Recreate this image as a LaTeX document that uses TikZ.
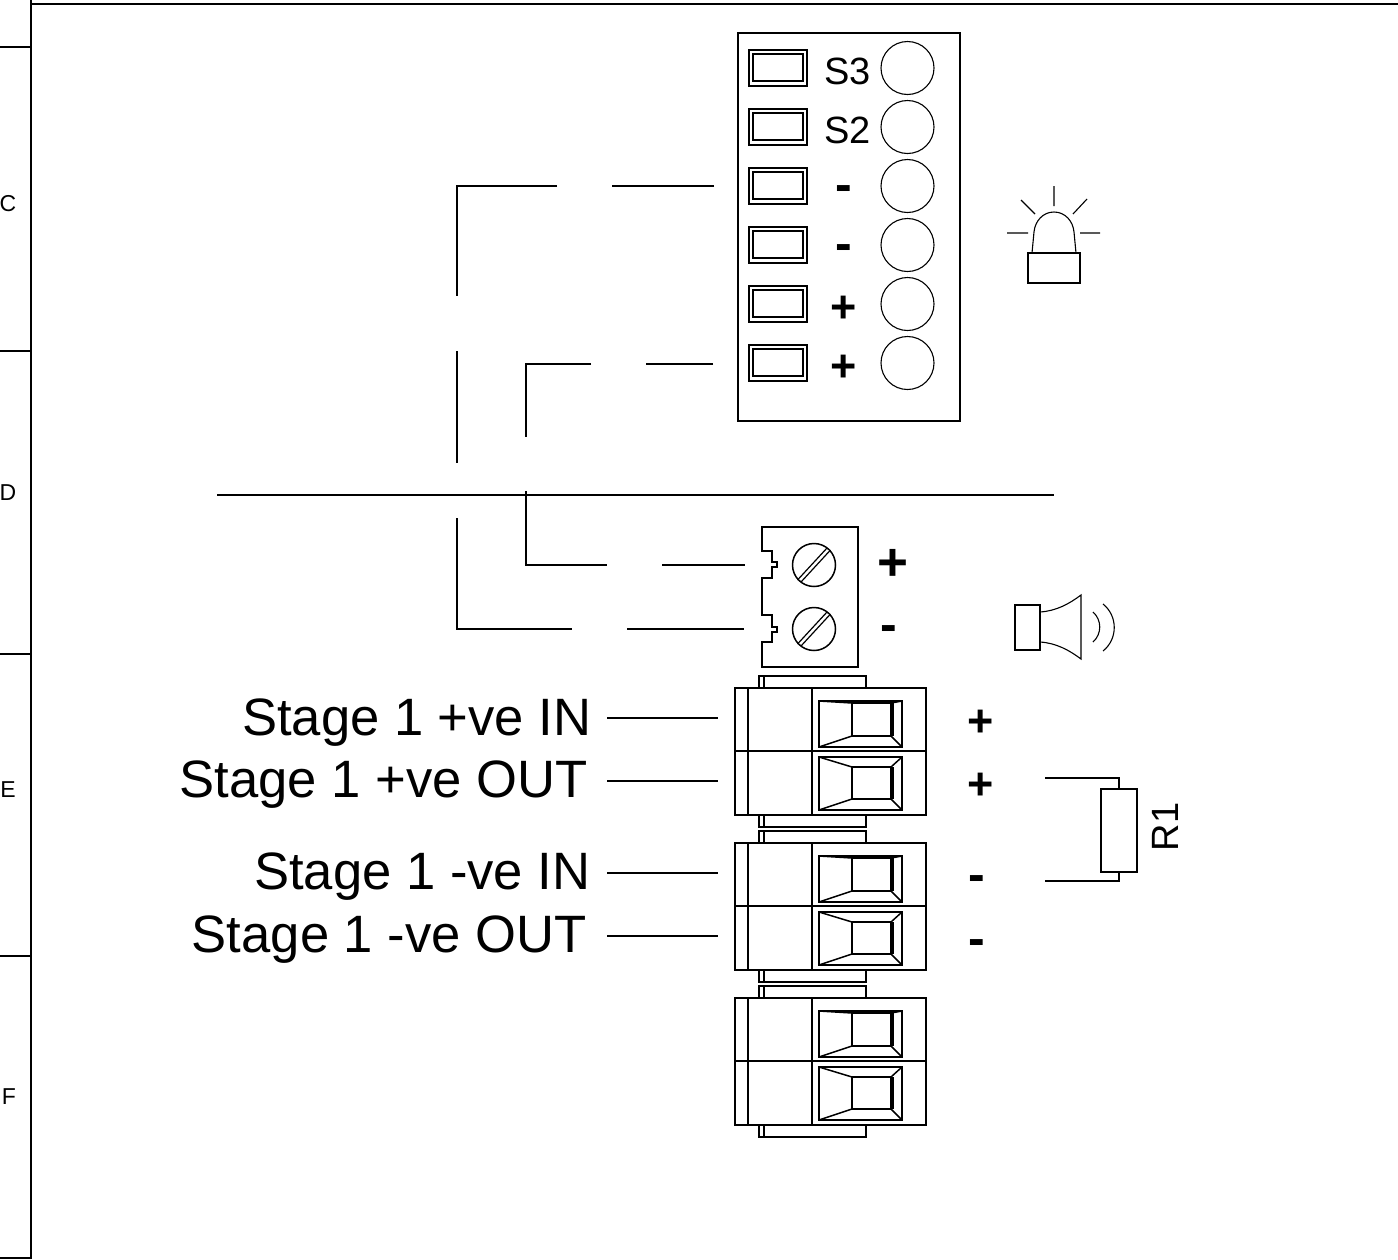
\documentclass[tikz,border=0pt]{standalone}
\usepackage{fontspec}
\setmainfont{Liberation Sans}
\tikzset{
  x=0.5pt,y=-0.5pt,
  ln/.style={line width=0.75pt,line cap=butt,line join=miter},
  thin ln/.style={line width=0.55pt},
  lbl/.style={inner sep=0pt,outer sep=0pt,font=\fontsize{26.3}{30}\selectfont,anchor=base east},
  pinlbl/.style={inner sep=0pt,outer sep=0pt,font=\fontsize{19}{22}\selectfont},
  plus/.style={inner sep=0pt,outer sep=0pt,font=\fontsize{22.5}{26}\selectfont\bfseries},
  minus/.style={inner sep=0pt,outer sep=0pt,font=\fontsize{25}{28}\selectfont\bfseries},
  bigplus/.style={inner sep=0pt,outer sep=0pt,font=\fontsize{26.5}{30}\selectfont\bfseries},
  sheet/.style={inner sep=0pt,outer sep=0pt,font=\fontsize{11.5}{13}\selectfont},
}
\newcommand{\switchrow}[2]{%
  \draw[thin ln] (749,#1-18) rectangle (807,#1+18);
  \draw[ln] (753,#1-14) rectangle (803,#1+13);
  \node[draw,circle,line width=0.55pt,minimum size=26.5pt,inner sep=0pt] (#2) at (907.5,#1) {};
}
\newcommand{\opening}[4]{% top, bottom, inner top, inner bottom
  \draw[line width=0.9pt] (819,#1) rectangle (902,#2);
  \draw[ln] (852,#3) rectangle (891,#4);
  \draw[line width=1.5pt] (892,#3) -- (892,#4);
  \draw[ln] (819,#1) -- (852,#3) (902,#1) -- (891,#3) (819,#2) -- (852,#4) (902,#2) -- (891,#4);
}
\newcommand{\connblock}[1]{%
  \begin{scope}[shift={(0,#1)}]
    \draw[ln] (759,688) -- (759,676) -- (866,676) -- (866,688);
    \draw[ln] (764,676) -- (764,688);
    \draw[ln] (759,815) -- (759,827) -- (866,827) -- (866,815);
    \draw[ln] (764,815) -- (764,827);
    \draw[ln] (735,688) rectangle (926,815);
    \draw[ln] (735,751) -- (926,751);
    \draw[ln] (748,688) -- (748,815);
    \draw[ln] (812,688) -- (812,815);
    \opening{701}{747}{703}{736}
    \opening{757}{810}{767}{799}
  \end{scope}
}
\newcommand{\screw}[3]{%
  \node[draw,circle,line width=0.75pt,minimum size=21.5pt,inner sep=0pt] (#1) at (#2,#3) {};
  \draw[line width=0.6pt] (#2-16.5,#3+15) -- (#2+13,#3-17);
  \draw[line width=0.6pt] (#2-13,#3+17) -- (#2+16.5,#3-15);
}
\begin{document}
\begin{tikzpicture}
\useasboundingbox (0,0) rectangle (1398,1259);
% sheet frame
\draw[ln] (31,0) -- (31,1259);
\draw[ln] (31,4) -- (1398,4);
\foreach \yy in {47,351,654,956,1258} \draw[ln] (0,\yy) -- (31,\yy);
\node[sheet] (zoneC) at (8,204) {C};
\node[sheet] (zoneD) at (8,493) {D};
\node[sheet] (zoneE) at (8,790) {E};
\node[sheet] (zoneF) at (9,1097) {F};
% strobe panel
\draw[thin ln] (738,33) rectangle (960,421);
\switchrow{68}{holeA}
\switchrow{127}{holeB}
\switchrow{186}{holeC}
\switchrow{245}{holeD}
\switchrow{304}{holeE}
\switchrow{363}{holeF}
\node[pinlbl] (s3) at (847.5,71) {S3};
\node[pinlbl] (s2) at (847.5,130) {S2};
\node[minus] (m1) at (844,194) {-};
\node[minus] (m2) at (844,253) {-};
\node[plus] (p1) at (844,309) {+};
\node[plus] (p2) at (844,368) {+};
% beacon
\draw[thin ln] (1028,253) rectangle (1080,283);
\draw[thin ln] (1032,253) -- (1034,232) .. controls (1035,221) and (1043,212) .. (1054,212) .. controls (1065,212) and (1073,221) .. (1074,232) -- (1076,253);
\draw[thin ln] (1054,186) -- (1054,206) (1021,200) -- (1035,214) (1087,199) -- (1073,214) (1007,233) -- (1028,233) (1080,233) -- (1100,233);
% bus line
\coordinate (busL) at (217,495);
\coordinate (busR) at (1054,495);
\draw[ln] (busL) -- (busR);
% wires (with gaps)
\coordinate (a1) at (714,186);
\coordinate (a2) at (612,186);
\coordinate (a3) at (557,186);
\coordinate (a4) at (457,186);
\coordinate (a5) at (457,296);
\coordinate (a6) at (457,351);
\coordinate (a7) at (457,463);
\coordinate (a8) at (457,518);
\coordinate (a9) at (457,629);
\coordinate (a10) at (572,629);
\coordinate (a11) at (627,629);
\coordinate (a12) at (744,629);
\coordinate (b1) at (713,364);
\coordinate (b2) at (646,364);
\coordinate (b3) at (591,364);
\coordinate (b4) at (526,364);
\coordinate (b5) at (526,437);
\coordinate (b6) at (526,491);
\coordinate (b7) at (526,565);
\coordinate (b8) at (607,565);
\coordinate (b9) at (662,565);
\coordinate (b10) at (745,565);
\draw[ln] (a1) -- (a2);
\draw[ln] (a3) -- (a4) -- (a5);
\draw[ln] (a6) -- (a7);
\draw[ln] (a8) -- (a9) -- (a10);
\draw[ln] (a11) -- (a12);
\draw[ln] (b1) -- (b2);
\draw[ln] (b3) -- (b4) -- (b5);
\draw[ln] (b6) -- (b7) -- (b8);
\draw[ln] (b9) -- (b10);
% sounder terminal
\draw[ln] (762,527) -- (858,527) -- (858,667) -- (762,667) -- (762,642) -- (772,642) -- (772,632) -- (777,632) -- (777,627) -- (772,627) -- (772,615) -- (762,615) -- (762,578) -- (772,578) -- (772,567) -- (777,567) -- (777,562) -- (772,562) -- (772,551) -- (762,551) -- cycle;
\screw{screwA}{814}{565}
\screw{screwB}{814}{629}
\node[bigplus] (sp) at (892.5,565) {+};
\node[minus] (sm) at (888.5,634) {-};
% horn
\draw[thin ln] (1015,605) rectangle (1040,650);
\draw[thin ln] (1040,612) .. controls (1056,611) and (1069,604) .. (1081,595) -- (1081,659) .. controls (1069,650) and (1056,643) .. (1040,642);
\draw[thin ln] (1093,612) .. controls (1102,620) and (1102,634) .. (1093,642);
\draw[thin ln] (1103,604) .. controls (1118,616) and (1118,639) .. (1103,651);
% connector blocks
\connblock{0}
\connblock{155}
\connblock{310}
% labels
\coordinate (l1a) at (607,718); \coordinate (l1b) at (718,718);
\coordinate (l2a) at (607,781); \coordinate (l2b) at (718,781);
\coordinate (l3a) at (607,873); \coordinate (l3b) at (718,873);
\coordinate (l4a) at (607,936); \coordinate (l4b) at (718,936);
\draw[ln] (l1a) -- (l1b);
\draw[ln] (l2a) -- (l2b);
\draw[ln] (l3a) -- (l3b);
\draw[ln] (l4a) -- (l4b);
\node[lbl] (t1) at (591.5,735) {Stage 1 +ve IN};
\node[lbl] (t2) at (587.5,797) {Stage 1 +ve OUT};
\node[lbl] (t3) at (590.5,889) {Stage 1 -ve IN};
\node[lbl] (t4) at (586.5,952) {Stage 1 -ve OUT};
\node[plus] (q1) at (981,723) {+};
\node[plus] (q2) at (981,786) {+};
\node[minus] (q3) at (977,884) {-};
\node[minus] (q4) at (977,948) {-};
% resistor
\node[draw,line width=0.75pt,minimum width=18pt,minimum height=41.5pt,inner sep=0pt] (R) at (1119,830.5) {};
\coordinate (r1) at (1045,778);
\coordinate (r2) at (1045,881);
\draw[ln] (r1) -| (R.north);
\draw[ln] (r2) -| (R.south);
\node[pinlbl,rotate=90] (Rl) at (1165,827) {R1};
\end{tikzpicture}
\end{document}
